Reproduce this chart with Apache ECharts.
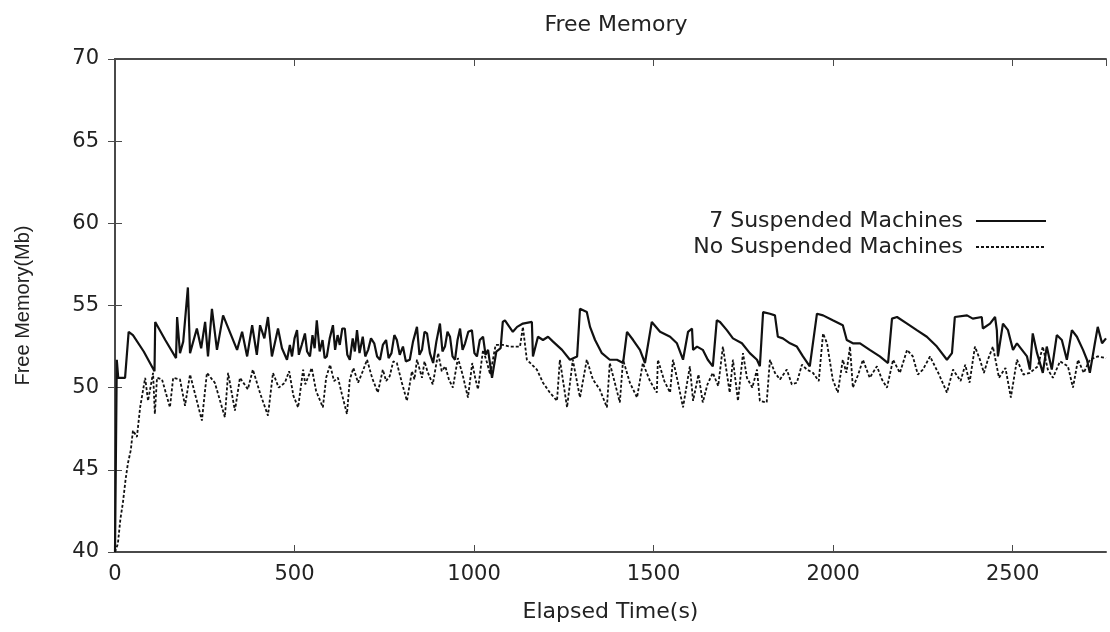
<!DOCTYPE html>
<html>
<head>
<meta charset="utf-8">
<title>Free Memory</title>
<script src="https://cdn.jsdelivr.net/npm/echarts@6/dist/echarts.min.js"></script>
<style>
  html, body { margin: 0; padding: 0; background: #fff; }
  #chart { width: 1110px; height: 632px; }
</style>
</head>
<body>
<div id="chart"></div>
<script>
// elapsed time (s), free memory (Mb)
const suspendedMachines = [
  [0, 40.0], [5, 51.7], [9, 50.6], [28, 50.6], [38, 53.4], [50, 53.2], [80, 52.2], [110, 51.0],
  [112, 54.0], [140, 52.9], [170, 51.8], [173, 54.3], [181, 52.1], [190, 52.8], [203, 56.1],
  [209, 52.1], [228, 53.6], [240, 52.4], [251, 54.0], [259, 51.9], [270, 54.8], [284, 52.3],
  [301, 54.4], [340, 52.3], [354, 53.4], [368, 51.9], [382, 53.8], [395, 52.0], [404, 53.8],
  [416, 53.0], [426, 54.3], [437, 51.9], [454, 53.6], [465, 52.4], [479, 51.7], [487, 52.6],
  [493, 51.9], [500, 53.0], [507, 53.5], [512, 52.0], [520, 52.6], [529, 53.3], [535, 52.2],
  [543, 51.9], [550, 53.2], [556, 52.4], [562, 54.1], [570, 52.2], [578, 52.9], [584, 51.8],
  [590, 51.9], [598, 53.0], [607, 53.8], [613, 52.3], [620, 53.2], [626, 52.6], [633, 53.6],
  [640, 53.6], [647, 52.0], [654, 51.7], [662, 53.0], [668, 52.2], [674, 53.5], [681, 52.1],
  [690, 53.1], [697, 51.9], [705, 52.3], [713, 53.0], [722, 52.7], [730, 51.9], [738, 51.7],
  [746, 52.6], [755, 52.9], [762, 51.8], [770, 52.1], [778, 53.2], [785, 52.9], [793, 52.0],
  [802, 52.5], [810, 51.6], [821, 51.7], [830, 52.8], [841, 53.7], [848, 52.0], [855, 52.3],
  [862, 53.4], [869, 53.3], [877, 52.1], [886, 51.5], [895, 52.8], [905, 53.9], [912, 52.2],
  [919, 52.5], [926, 53.4], [933, 53.1], [940, 51.9], [947, 51.7], [954, 52.9], [961, 53.6],
  [968, 52.3], [975, 52.7], [984, 53.4], [994, 53.5], [1001, 52.1], [1008, 51.9], [1016, 52.9],
  [1025, 53.1], [1032, 52.0], [1039, 52.3], [1050, 50.6], [1062, 52.2], [1074, 52.4], [1080, 54.0],
  [1086, 54.1], [1108, 53.4], [1120, 53.7], [1136, 53.9], [1161, 54.0], [1164, 51.9], [1178, 53.1],
  [1192, 52.9], [1206, 53.1], [1220, 52.8], [1245, 52.3], [1267, 51.7], [1287, 51.9], [1295, 54.8],
  [1314, 54.6], [1323, 53.7], [1337, 52.9], [1356, 52.1], [1378, 51.7], [1398, 51.7], [1415, 51.5],
  [1426, 53.4], [1443, 52.9], [1462, 52.3], [1476, 51.5], [1495, 54.0], [1518, 53.4], [1546, 53.1],
  [1565, 52.7], [1582, 51.7], [1596, 53.4], [1607, 53.6], [1610, 52.3], [1621, 52.5], [1637, 52.3],
  [1651, 51.7], [1665, 51.3], [1676, 54.1], [1685, 54.0], [1704, 53.5], [1721, 53.0], [1746, 52.7],
  [1768, 52.1], [1788, 51.7], [1796, 51.3], [1805, 54.6], [1824, 54.5], [1838, 54.4], [1846, 53.1],
  [1860, 53.0], [1880, 52.7], [1899, 52.5], [1916, 51.9], [1935, 51.3], [1955, 54.5], [1972, 54.4],
  [1999, 54.1], [2027, 53.8], [2038, 52.9], [2055, 52.7], [2075, 52.7], [2102, 52.3], [2130, 51.9],
  [2153, 51.5], [2164, 54.2], [2178, 54.3], [2206, 53.9], [2233, 53.5], [2261, 53.1], [2289, 52.5],
  [2317, 51.7], [2331, 52.1], [2339, 54.3], [2373, 54.4], [2389, 54.2], [2414, 54.3], [2417, 53.6],
  [2437, 53.9], [2451, 54.3], [2456, 53.5], [2459, 51.9], [2473, 53.9], [2487, 53.5], [2501, 52.3],
  [2512, 52.7], [2526, 52.3], [2540, 51.9], [2548, 51.1], [2556, 53.3], [2568, 52.1], [2584, 50.9],
  [2595, 52.5], [2609, 51.1], [2623, 53.2], [2637, 52.9], [2651, 51.7], [2665, 53.5], [2679, 53.1],
  [2696, 52.3], [2707, 51.7], [2715, 50.9], [2729, 52.7], [2737, 53.7], [2749, 52.7], [2760, 53.0]
];

const noSuspendedMachines = [
  [0, 40.0], [8, 40.5], [15, 42.0], [22, 43.0], [30, 44.5], [36, 45.4], [44, 46.2], [50, 47.4],
  [61, 47.0], [70, 48.8], [84, 50.6], [92, 49.2], [106, 50.9], [111, 48.4], [117, 50.6], [131, 50.5],
  [153, 48.8], [162, 50.6], [181, 50.5], [195, 48.9], [209, 50.8], [242, 48.0], [256, 50.9],
  [278, 50.3], [306, 48.2], [315, 50.9], [334, 48.6], [348, 50.6], [370, 49.9], [384, 51.1],
  [405, 49.6], [426, 48.3], [440, 50.9], [456, 50.0], [473, 50.3], [485, 51.0], [497, 49.5],
  [510, 48.8], [524, 51.1], [530, 50.2], [537, 50.6], [548, 51.2], [560, 49.8], [579, 48.8],
  [588, 50.6], [599, 51.4], [610, 50.4], [621, 50.6], [632, 49.6], [646, 48.4], [654, 50.5],
  [664, 51.2], [677, 50.3], [690, 51.0], [702, 51.7], [716, 50.6], [732, 49.7], [746, 51.1],
  [755, 50.4], [765, 50.7], [775, 51.6], [785, 51.5], [799, 50.3], [813, 49.2], [827, 51.0],
  [834, 50.5], [841, 51.7], [855, 50.6], [862, 51.6], [870, 51.0], [885, 50.2], [900, 52.1],
  [910, 51.0], [920, 51.3], [930, 50.5], [941, 50.0], [955, 51.8], [968, 50.8], [983, 49.4],
  [995, 51.5], [1003, 50.6], [1011, 49.9], [1025, 52.3], [1035, 51.6], [1045, 50.8], [1060, 52.6],
  [1080, 52.6], [1100, 52.5], [1128, 52.5], [1136, 53.7], [1147, 51.7], [1175, 51.1], [1192, 50.3],
  [1211, 49.7], [1231, 49.2], [1239, 51.7], [1259, 48.8], [1275, 51.7], [1295, 49.4], [1314, 51.7],
  [1331, 50.5], [1350, 49.9], [1370, 48.8], [1378, 51.5], [1406, 49.1], [1415, 51.7], [1434, 50.3],
  [1454, 49.4], [1470, 51.5], [1490, 50.4], [1509, 49.7], [1512, 51.7], [1530, 50.4], [1546, 49.7],
  [1554, 51.7], [1568, 50.3], [1582, 48.8], [1601, 51.3], [1610, 49.2], [1625, 50.8], [1637, 49.1],
  [1650, 50.2], [1665, 50.9], [1680, 50.1], [1693, 52.5], [1712, 49.7], [1721, 51.7], [1735, 49.2],
  [1749, 52.1], [1760, 50.6], [1775, 50.0], [1788, 51.1], [1796, 49.2], [1815, 49.1], [1824, 51.7],
  [1838, 50.9], [1852, 50.5], [1871, 51.1], [1885, 50.2], [1899, 50.3], [1913, 51.4], [1927, 51.1],
  [1944, 50.9], [1960, 50.4], [1972, 53.3], [1983, 52.7], [1999, 50.5], [2013, 49.7], [2027, 51.7],
  [2037, 50.9], [2047, 52.5], [2055, 50.0], [2070, 50.8], [2083, 51.7], [2102, 50.6], [2122, 51.3],
  [2136, 50.5], [2150, 50.0], [2167, 51.7], [2186, 50.9], [2206, 52.3], [2222, 51.9], [2236, 50.8],
  [2250, 51.1], [2270, 51.9], [2295, 50.8], [2317, 49.7], [2334, 51.1], [2355, 50.4], [2368, 51.4],
  [2380, 50.3], [2395, 52.5], [2409, 51.7], [2420, 50.9], [2431, 51.7], [2445, 52.5], [2462, 50.6],
  [2480, 51.2], [2495, 49.4], [2512, 51.7], [2530, 50.8], [2548, 50.9], [2570, 51.3], [2584, 52.5],
  [2598, 51.1], [2612, 50.6], [2632, 51.6], [2654, 51.3], [2668, 50.0], [2682, 51.7], [2698, 50.9],
  [2715, 51.7], [2737, 51.9], [2760, 51.8]
];

const xRange = [0, 2760];
const yRange = [40, 70];

const chart = echarts.init(document.getElementById("chart"));
const wide = "'DejaVu Sans', sans-serif";
const narrow = "'Liberation Sans', Arial, sans-serif";
const frame = { show: true, lineStyle: { color: "#4a4a4a", width: 2 } };
const tick = { show: true, inside: true, length: 7, lineStyle: { color: "#4a4a4a", width: 1 } };

chart.setOption({
  backgroundColor: "#fff",
  animation: false,
  textStyle: { fontFamily: wide, color: "#222" },
  title: {
    text: "Free Memory",
    left: 611,
    textAlign: "center",
    top: 9,
    textStyle: { fontFamily: wide, fontWeight: "normal", fontSize: 22, color: "#222" },
  },
  legend: {
    orient: "vertical",
    right: 58,
    top: 205,
    align: "right",
    itemWidth: 70,
    itemHeight: 14,
    itemGap: 4,
    itemStyle: { opacity: 0 },
    textStyle: { fontFamily: wide, fontSize: 22, color: "#222", padding: [0, 8, 0, 0] },
    data: ["7 Suspended Machines", "No Suspended Machines"],
  },
  grid: { left: 115, right: 4, top: 59, bottom: 80 },
  xAxis: [
    {
      type: "value",
      min: xRange[0],
      max: xRange[1],
      interval: 500,
      name: "Elapsed Time(s)",
      nameLocation: "middle",
      nameGap: 49,
      nameTextStyle: { fontFamily: wide, fontSize: 22, color: "#222" },
      axisLine: frame,
      axisTick: tick,
      splitLine: { show: false },
      axisLabel: {
        fontFamily: wide, fontSize: 21, color: "#222", margin: 12, showMaxLabel: false,
        formatter: (v) => String(v),
      },
    },
    {
      type: "value",
      position: "top",
      min: xRange[0],
      max: xRange[1],
      interval: 500,
      axisLine: frame,
      axisTick: tick,
      splitLine: { show: false },
      axisLabel: { show: false },
    },
  ],
  yAxis: [
    {
      type: "value",
      min: yRange[0],
      max: yRange[1],
      interval: 5,
      name: "Free Memory(Mb)",
      nameLocation: "middle",
      nameGap: 82,
      nameTextStyle: { fontFamily: narrow, fontSize: 20, color: "#222" },
      axisLine: frame,
      axisTick: tick,
      splitLine: { show: false },
      axisLabel: { fontFamily: wide, fontSize: 21, color: "#222", margin: 16 },
    },
    {
      type: "value",
      position: "right",
      min: yRange[0],
      max: yRange[1],
      interval: 5,
      axisLine: frame,
      axisTick: tick,
      splitLine: { show: false },
      axisLabel: { show: false },
    },
  ],
  series: [
    {
      name: "7 Suspended Machines",
      type: "line",
      data: suspendedMachines,
      showSymbol: false,
      symbol: "none",
      lineStyle: { color: "#111", width: 2.2 },
      itemStyle: { color: "#111" },
    },
    {
      name: "No Suspended Machines",
      type: "line",
      data: noSuspendedMachines,
      showSymbol: false,
      symbol: "none",
      lineStyle: { color: "#111", width: 1.8, type: [3, 2] },
      itemStyle: { color: "#111" },
    },
  ],
});
</script>
</body>
</html>
